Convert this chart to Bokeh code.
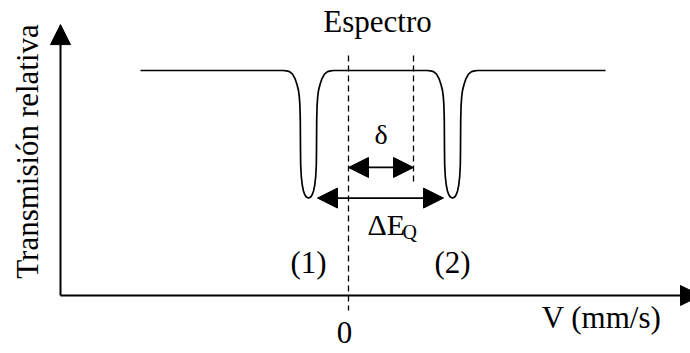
import math
from bokeh.plotting import figure
from bokeh.models import Arrow, NormalHead
from bokeh.core.properties import value
from bokeh.embed import file_html
from bokeh.resources import INLINE

# --- spectrum data: velocity (mm/s) vs relative transmission ---
v_start, v_end = -2.08, 2.57          # extent of the recorded spectrum
baseline = 1.0                        # off-resonance transmission
line_centers = [-0.40, 1.04]          # positions of the two quadrupole lines
line_labels = ["(1)", "(2)"]

# profile of one absorption line: offset from its centre and drop in transmission
dip_offset = [-0.255, -0.220, -0.190, -0.160, -0.135, -0.115, -0.100, -0.092, -0.086,
              -0.082, -0.080, -0.078, -0.072, -0.063, -0.052, -0.038, -0.022, 0.000,
              0.022, 0.038, 0.052, 0.063, 0.072, 0.078, 0.080, 0.082, 0.086,
              0.092, 0.100, 0.115, 0.135, 0.160, 0.190, 0.220, 0.255]
dip_drop = [0.000, 0.002, 0.005, 0.016, 0.036, 0.062, 0.089, 0.116, 0.156,
            0.222, 0.356, 0.422, 0.471, 0.507, 0.533, 0.551, 0.562, 0.567,
            0.562, 0.551, 0.533, 0.507, 0.471, 0.422, 0.356, 0.222, 0.156,
            0.116, 0.089, 0.062, 0.036, 0.016, 0.005, 0.002, 0.000]

isomer_shift = 0.65                   # delta, measured from v = 0
quad_arrow = [-0.31, 0.95]            # extent of the Delta E_Q arrow

# --- build the spectrum polyline ---
xs = [v_start]
ys = [baseline]
for c in line_centers:
    xs += [c + d for d in dip_offset]
    ys += [baseline - d for d in dip_drop]
xs.append(v_end)
ys.append(baseline)

line_min = baseline - max(dip_drop)

# axis geometry
origin_v, origin_t = -2.88, 0.0
y_arrow_top = 1.204
x_arrow_tip = 3.52

p = figure(width=690, height=353, x_range=(-3.48, 3.42), y_range=(-0.2578, 1.3111),
           x_axis_type=None, y_axis_type=None, toolbar_location=None,
           output_backend="svg", min_border=0, outline_line_color=None,
           background_fill_color="white", border_fill_color="white")
p.xgrid.visible = False
p.ygrid.visible = False

font = value("Liberation Serif")

# spectrum
p.line(xs, ys, line_color="black", line_width=1.7, line_join="round")

# dashed reference lines at v = 0 and at the isomer shift
p.segment(x0=[0.0, isomer_shift], y0=[1.067, 1.067], x1=[0.0, isomer_shift], y1=[-0.067, 0.502],
          line_color="black", line_width=1.3, line_dash="6 4")

def head():
    return NormalHead(size=20, fill_color="black", line_color="black", line_width=1)

# axes with arrow heads
p.add_layout(Arrow(end=head(), x_start=origin_v, y_start=origin_t, x_end=origin_v,
                   y_end=y_arrow_top, line_width=2, line_color="black"))
p.add_layout(Arrow(end=head(), x_start=origin_v, y_start=origin_t, x_end=x_arrow_tip,
                   y_end=origin_t, line_width=2, line_color="black"))

# isomer shift and quadrupole splitting arrows
p.add_layout(Arrow(start=head(), end=head(), x_start=0.0, y_start=0.569, x_end=isomer_shift,
                   y_end=0.569, line_width=1.7, line_color="black"))
p.add_layout(Arrow(start=head(), end=head(), x_start=quad_arrow[0], y_start=line_min,
                   x_end=quad_arrow[1], y_end=line_min, line_width=1.7, line_color="black"))

# labels
p.text(x=[0.29], y=[1.218], text=["Espectro"], text_font=font, text_font_size="31px",
       text_align="center", text_baseline="alphabetic", text_color="black")
p.text(x=[isomer_shift / 2], y=[0.716], text=["δ"], text_font=font, text_font_size="28px",
       text_align="center", text_baseline="alphabetic", text_color="black")
p.text(x=[0.19], y=[0.316], text=["ΔE"], text_font=font, text_font_size="30px",
       text_align="left", text_baseline="alphabetic", text_color="black")
p.text(x=[0.54], y=[0.284], text=["Q"], text_font=font, text_font_size="20px",
       text_align="left", text_baseline="alphabetic", text_color="black")
p.text(x=line_centers, y=[0.147, 0.147], text=line_labels, text_font=font,
       text_font_size="31px", text_align="center", text_baseline="alphabetic",
       text_color="black")
p.text(x=[-0.04], y=[-0.166], text=["0"], text_font=font, text_font_size="31px",
       text_align="center", text_baseline="alphabetic", text_color="black")
p.text(x=[2.53], y=[-0.098], text=["V (mm/s)"], text_font=font, text_font_size="31px",
       text_align="center", text_baseline="alphabetic", text_color="black")
p.text(x=[-3.21], y=[0.64], text=["Transmisión relativa"], text_font=font,
       text_font_size="31px", text_align="center", text_baseline="alphabetic",
       angle=math.pi / 2, text_color="black")

open("out.html", "w").write(file_html(p, INLINE))
